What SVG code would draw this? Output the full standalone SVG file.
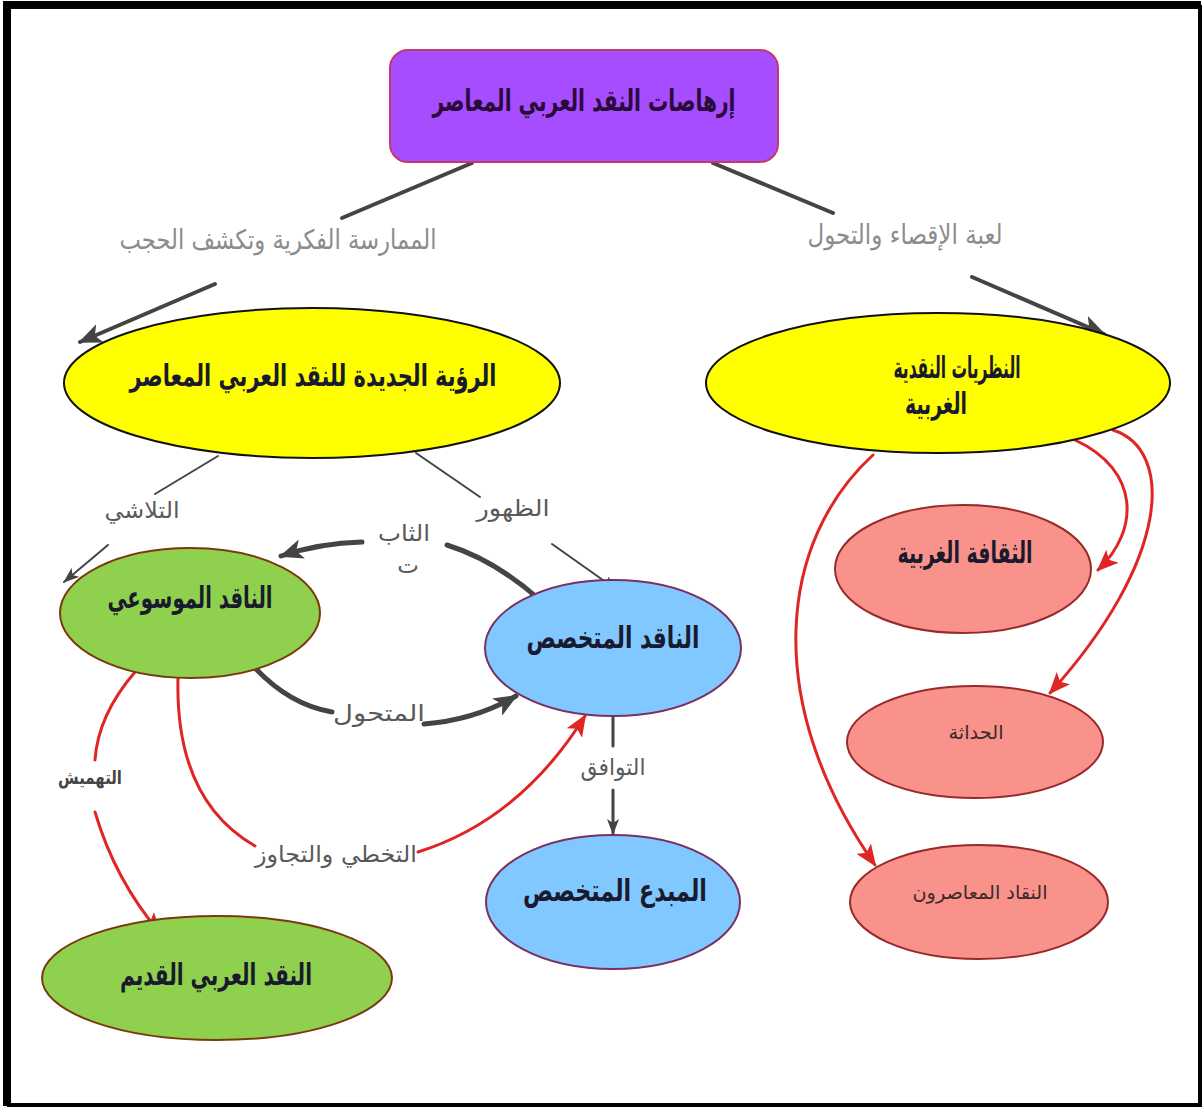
<svg xmlns="http://www.w3.org/2000/svg" width="1204" height="1110" viewBox="0 0 1204 1110">
  <style>
    .t { font-family: "DejaVu Sans", "Noto Sans", sans-serif; text-anchor: middle; }
    .node-t { font-size: 30px; font-weight: bold; fill: #1a1a2e; }
    .small-t { font-size: 19px; fill: #3a2a2a; }
    .lbl-top { font-size: 27px; fill: #8c8c8c; }
    .lbl { font-size: 23px; fill: #5a5a5a; }
    .dark { fill: none; stroke: #444; stroke-linecap: round; }
    .red { fill: none; stroke: #e02525; stroke-width: 3; stroke-linecap: round; }
  </style>
  <defs>
    <marker id="ah-dark" markerUnits="userSpaceOnUse" markerWidth="24" markerHeight="20" refX="22" refY="10" orient="auto">
      <path d="M0,0 L24,10 L0,20 L6,10 Z" fill="#444"/>
    </marker>
    <marker id="ah-thin" markerUnits="userSpaceOnUse" markerWidth="16" markerHeight="12" refX="15" refY="6" orient="auto">
      <path d="M0,0 L16,6 L0,12 L4,6 Z" fill="#444"/>
    </marker>
    <marker id="ah-red" markerUnits="userSpaceOnUse" markerWidth="22" markerHeight="18" refX="20" refY="9" orient="auto">
      <path d="M0,0 L22,9 L0,18 L5,9 Z" fill="#e02525"/>
    </marker>
  </defs>

  <rect width="1204" height="1110" fill="#ffffff"/>
  <!-- outer frame: heavy on the top and left, lighter on the right and bottom -->
  <path d="M7,1106 V5 H1201" fill="none" stroke="#000" stroke-width="8"/>
  <path d="M1200,5 V1105 H7" fill="none" stroke="#000" stroke-width="4"/>

  <!-- connectors -->
  <g id="connectors">
    <path class="dark" stroke-width="4" d="M472,163 L342,218"/>
    <path class="dark" stroke-width="4" d="M215,284 L80,342" marker-end="url(#ah-dark)"/>
    <path class="dark" stroke-width="4" d="M713,163 L833,213"/>
    <path class="dark" stroke-width="4" d="M972,277 L1104,334" marker-end="url(#ah-dark)"/>

    <path class="dark" stroke-width="2" d="M218,456 L155,494"/>
    <path class="dark" stroke-width="2" d="M108,545 L64,582" marker-end="url(#ah-thin)"/>
    <path class="dark" stroke-width="2" d="M416,453 L480,497"/>
    <path class="dark" stroke-width="2" d="M552,544 L617,590" marker-end="url(#ah-thin)"/>

    <path class="dark" stroke-width="5" d="M540,600 Q495,560 447,545"/>
    <path class="dark" stroke-width="5" d="M362,542 Q320,543 281,556" marker-end="url(#ah-dark)"/>

    <path class="dark" stroke-width="5" d="M255,668 Q290,705 332,712"/>
    <path class="dark" stroke-width="5" d="M424,724 Q475,720 516,696" marker-end="url(#ah-dark)"/>

    <path class="dark" stroke-width="3" d="M613,716 L613,746"/>
    <path class="dark" stroke-width="3" d="M613,790 L613,834" marker-end="url(#ah-thin)"/>

    <path class="red" d="M135,672 Q98,715 95,760"/>
    <path class="red" d="M95,812 Q115,880 160,933" marker-end="url(#ah-red)"/>

    <path class="red" d="M178,678 Q175,800 255,846"/>
    <path class="red" d="M418,852 Q520,820 585,716" marker-end="url(#ah-red)"/>

    <path class="red" d="M1075,440 C1140,470 1140,530 1098,570" marker-end="url(#ah-red)"/>
    <path class="red" d="M1113,430 C1175,450 1170,560 1050,693" marker-end="url(#ah-red)"/>
    <path class="red" d="M873,455 C780,540 760,700 875,865" marker-end="url(#ah-red)"/>

    <!-- link labels -->
    <text class="t lbl-top" x="278" y="249" textLength="317" lengthAdjust="spacingAndGlyphs">الممارسة الفكرية وتكشف الحجب</text>
    <text class="t lbl-top" x="905" y="244" textLength="195" lengthAdjust="spacingAndGlyphs">لعبة الإقصاء والتحول</text>
    <text class="t lbl" x="142" y="518" textLength="75" lengthAdjust="spacingAndGlyphs">التلاشي</text>
    <text class="t lbl" x="513" y="516" textLength="73" lengthAdjust="spacingAndGlyphs">الظهور</text>
    <text class="t lbl" x="404" y="541" textLength="52" lengthAdjust="spacingAndGlyphs">الثاب</text>
    <text class="t lbl" x="408" y="573">ت</text>
    <text class="t lbl" x="379" y="721" textLength="92" lengthAdjust="spacingAndGlyphs">المتحول</text>
    <text class="t lbl" x="613" y="775" textLength="65" lengthAdjust="spacingAndGlyphs">التوافق</text>
    <text class="t" x="90" y="784" style="font-size:19px;font-weight:bold;fill:#444" textLength="64" lengthAdjust="spacingAndGlyphs">التهميش</text>
    <text class="t lbl" x="336" y="862" textLength="162" lengthAdjust="spacingAndGlyphs">التخطي والتجاوز</text>
  </g>

  <!-- nodes -->
  <g id="node-root">
    <rect x="390" y="50" width="388" height="112" rx="18" fill="#a64dff" stroke="#c23a6a" stroke-width="2"/>
    <text class="t node-t" x="584" y="111" style="fill:#2a0a3a" textLength="303" lengthAdjust="spacingAndGlyphs">إرهاصات النقد العربي المعاصر</text>
  </g>
  <g id="node-new-vision">
    <ellipse cx="312" cy="383" rx="248" ry="75" fill="#ffff00" stroke="#111" stroke-width="2"/>
    <text class="t node-t" x="313" y="386" textLength="367" lengthAdjust="spacingAndGlyphs">الرؤية الجديدة للنقد العربي المعاصر</text>
  </g>
  <g id="node-western-theories">
    <ellipse cx="938" cy="383" rx="232" ry="70" fill="#ffff00" stroke="#111" stroke-width="2"/>
    <text class="t node-t" x="957" y="378" textLength="127" lengthAdjust="spacingAndGlyphs">النظريات النقدية</text>
    <text class="t node-t" x="936" y="414" textLength="62" lengthAdjust="spacingAndGlyphs">الغربية</text>
  </g>
  <g id="node-encyclopedic">
    <ellipse cx="190" cy="613" rx="130" ry="65" fill="#8fd14f" stroke="#7a3a10" stroke-width="2"/>
    <text class="t node-t" x="190" y="608" textLength="165" lengthAdjust="spacingAndGlyphs">الناقد الموسوعي</text>
  </g>
  <g id="node-specialist">
    <ellipse cx="613" cy="648" rx="128" ry="68" fill="#80c8ff" stroke="#7a3060" stroke-width="2"/>
    <text class="t node-t" x="613" y="648" textLength="173" lengthAdjust="spacingAndGlyphs">الناقد المتخصص</text>
  </g>
  <g id="node-creator">
    <ellipse cx="613" cy="902" rx="127" ry="67" fill="#80c8ff" stroke="#7a3060" stroke-width="2"/>
    <text class="t node-t" x="615" y="901" textLength="184" lengthAdjust="spacingAndGlyphs">المبدع المتخصص</text>
  </g>
  <g id="node-old-criticism">
    <ellipse cx="217" cy="978" rx="175" ry="62" fill="#8fd14f" stroke="#7a3a10" stroke-width="2"/>
    <text class="t node-t" x="216" y="985" textLength="192" lengthAdjust="spacingAndGlyphs">النقد العربي القديم</text>
  </g>
  <g id="node-western-culture">
    <ellipse cx="963" cy="569" rx="128" ry="64" fill="#f9928a" stroke="#9a2a2a" stroke-width="2"/>
    <text class="t node-t" x="965" y="563" textLength="135" lengthAdjust="spacingAndGlyphs">الثقافة الغربية</text>
  </g>
  <g id="node-modernity">
    <ellipse cx="975" cy="742" rx="128" ry="56" fill="#f9928a" stroke="#9a2a2a" stroke-width="2"/>
    <text class="t small-t" x="976" y="739" textLength="55" lengthAdjust="spacingAndGlyphs">الحداثة</text>
  </g>
  <g id="node-contemporary-critics">
    <ellipse cx="979" cy="902" rx="129" ry="57" fill="#f9928a" stroke="#9a2a2a" stroke-width="2"/>
    <text class="t small-t" x="980" y="899" textLength="135" lengthAdjust="spacingAndGlyphs">النقاد المعاصرون</text>
  </g>
</svg>
